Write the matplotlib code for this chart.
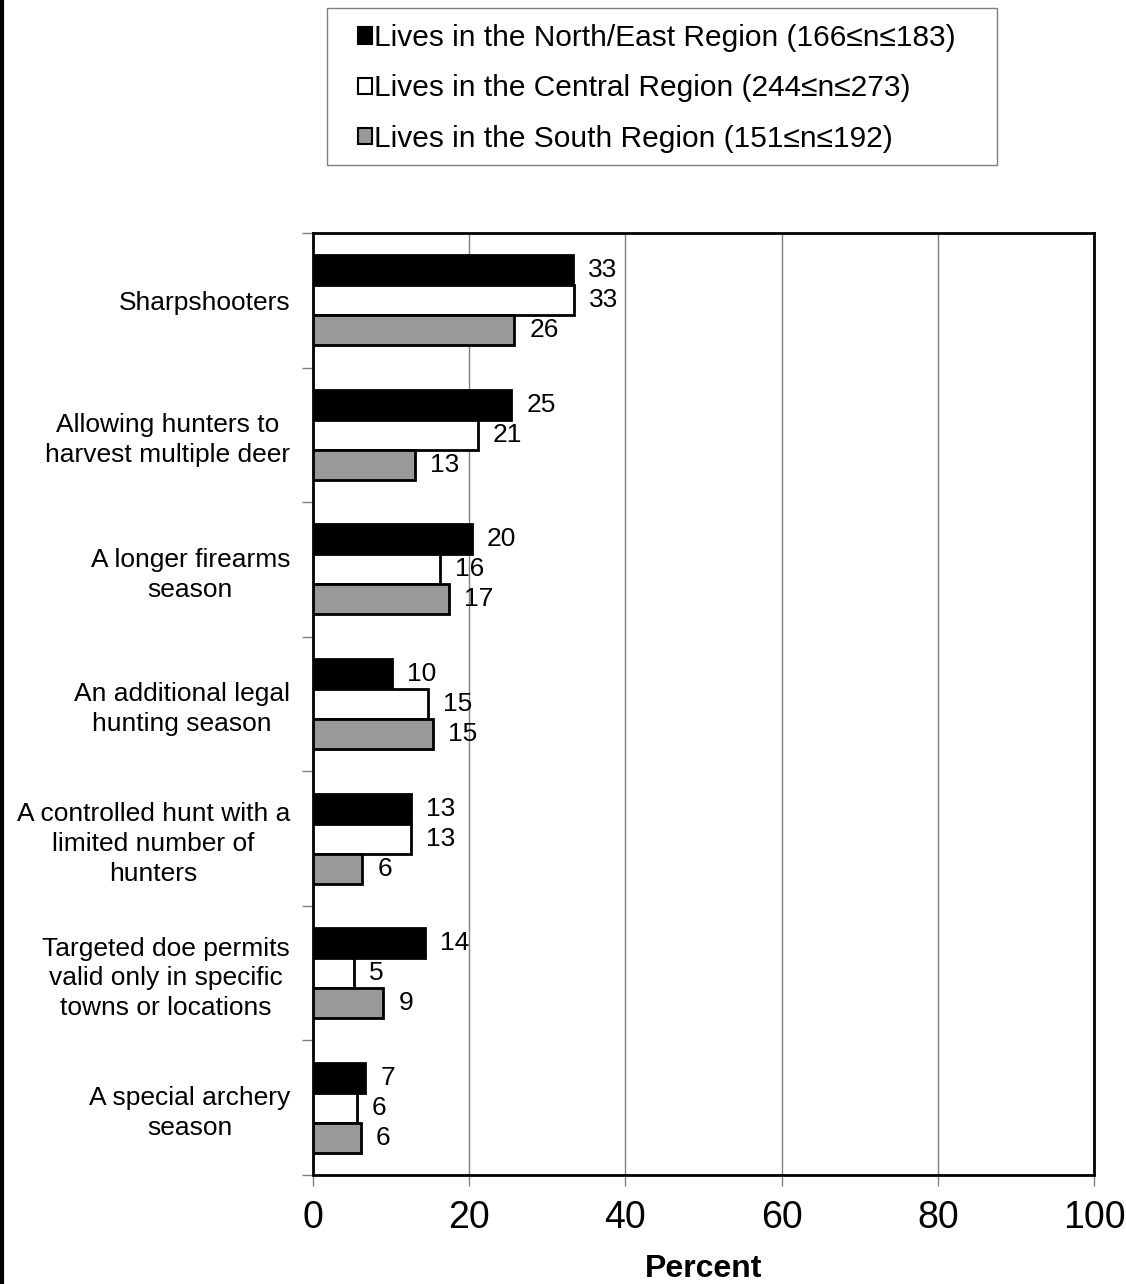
import matplotlib
matplotlib.use("Agg")
import matplotlib.pyplot as plt
import numpy as np
from matplotlib.patches import Patch, Rectangle
from matplotlib.lines import Line2D

plt.rcParams['font.family'] = ['Liberation Sans', 'DejaVu Sans']

categories = [
    "Sharpshooters",
    "Allowing hunters to\nharvest multiple deer",
    "A longer firearms\nseason",
    "An additional legal\nhunting season",
    "A controlled hunt with a\nlimited number of\nhunters",
    "Targeted doe permits\nvalid only in specific\ntowns or locations",
    "A special archery\nseason",
]
north_east = [33.3, 25.4, 20.3, 10.1, 12.6, 14.4, 6.7]
central = [33.4, 21.1, 16.3, 14.7, 12.6, 5.3, 5.6]
south = [25.8, 13.1, 17.4, 15.4, 6.3, 9.0, 6.1]
series_labels = [
    "Lives in the North/East Region (166≤n≤183)",
    "Lives in the Central Region (244≤n≤273)",
    "Lives in the South Region (151≤n≤192)",
]
colors = ["#000000", "#ffffff", "#999999"]
x_ticks = [0, 20, 40, 60, 80, 100]

W, H = 1126, 1284
fig = plt.figure(figsize=(W / 100, H / 100), dpi=100)
ax = fig.add_axes([313 / W, 1 - 1175 / H, (1094 - 313) / W, (1175 - 233) / H])

n = len(categories)
centers = np.arange(n) + 0.5
bh = 0.223
offsets = [-bh, 0, bh]
for vals, col, off, lab in zip([north_east, central, south], colors, offsets, series_labels):
    ys = centers + off
    ax.barh(ys, vals, height=bh, color=col, edgecolor="black", linewidth=2, label=lab, zorder=3)
    for y, v in zip(ys, vals):
        ax.annotate(f"{v:.0f}", xy=(v, y), xytext=(15, 0), textcoords="offset pixels",
                    ha="left", va="center", fontsize=19, zorder=4)

ax.set_xlim(0, 100)
ax.set_ylim(n, 0)
ax.set_xticks(x_ticks)
ax.set_xticklabels([str(t) for t in x_ticks], fontsize=27)
ax.tick_params(axis="x", direction="out", length=8, width=1, color="#808080", pad=10)
ax.set_yticks(np.arange(n + 1))
ax.set_yticklabels([])
ax.set_yticks(centers, minor=True)
ax.set_yticklabels(categories, minor=True, fontsize=19, ha="right",
                   multialignment="center", linespacing=1.3)
ax.tick_params(axis="y", which="major", direction="out", length=8, width=1, color="#808080")
ax.tick_params(axis="y", which="minor", length=0, pad=16.5)
ax.grid(axis="x", color="#808080", linewidth=1, zorder=0)
ax.set_axisbelow(True)
for s in ax.spines.values():
    s.set_linewidth(2)
    s.set_color("black")

ax.set_xlabel("Percent", fontsize=23, fontweight="bold", labelpad=13)

handles = [Patch(facecolor=c, edgecolor="black", linewidth=1.5) for c in colors]
leg = fig.legend(handles, series_labels, loc="center",
                 bbox_to_anchor=(657 / W, 1 - 88.5 / H), bbox_transform=fig.transFigure,
                 fontsize=21.5, frameon=False,
                 handlelength=0.47, handleheight=0.47, handletextpad=0.08,
                 labelspacing=0.75, borderpad=0, borderaxespad=0)
fig.add_artist(Rectangle((327 / W, 1 - 165 / H), (997 - 327) / W, (165 - 8) / H,
                         transform=fig.transFigure, facecolor="none",
                         edgecolor="#808080", linewidth=1))

fig.add_artist(Line2D([1.5 / W, 1.5 / W], [0, 1], transform=fig.transFigure, color="black", linewidth=3))

fig.savefig("out.png", dpi=100, facecolor="white")
